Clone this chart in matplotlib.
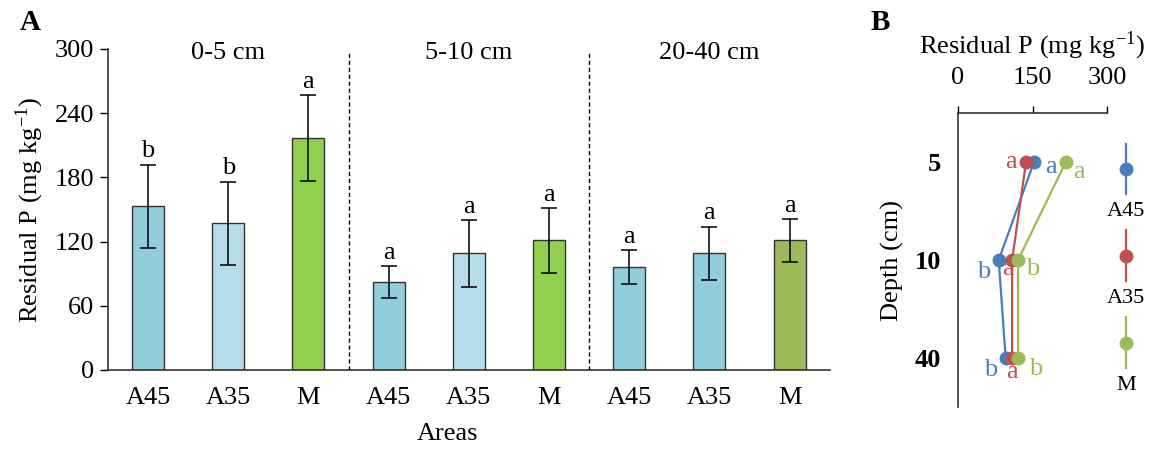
import numpy as np
import matplotlib
matplotlib.use("Agg")
import matplotlib.pyplot as plt

plt.rcParams['font.family'] = ['Liberation Serif', 'DejaVu Serif']
plt.rcParams['mathtext.fontset'] = 'stix'

# panel A data
depths = ['0-5 cm', '5-10 cm', '20-40 cm']
areas = ['A45', 'A35', 'M']
means = [153, 137, 217,  82, 109, 121,  96, 109, 121]
errs = [39, 39, 40,  15, 31, 30,  16, 25, 20]
letters_a = ['b', 'b', 'a',  'a', 'a', 'a',  'a', 'a', 'a']
bar_colors = ['#92CDDC', '#B7DEE8', '#92D050',
              '#92CDDC', '#B7DEE8', '#92D050',
              '#92CDDC', '#92CDDC', '#9BBB59']

# panel B data (same means, by area across depth)
depth_ticks = ['5', '10', '40']
prof = {'A45': [153, 82, 96], 'A35': [137, 109, 109], 'M': [217, 121, 121]}
prof_colors = {'A45': '#4A7EBB', 'A35': '#C0504D', 'M': '#9BBB59'}
prof_letters = {'A45': ['a', 'b', 'b'], 'A35': ['a', 'a', 'a'], 'M': ['a', 'b', 'b']}
# label offsets in pixels (dx, dy) relative to each point
prof_offsets = {'A45': [(17, -5), (-15, -12), (-15, -12)],
                'A35': [(-15, 0), (-4, -9), (0, -14)],
                'M': [(13, -10), (15, -9), (18, -11)]}

FS = 19

fig = plt.figure(figsize=(11.51, 4.49), dpi=100)

# ---- panel A
ax = fig.add_axes([0.0938, 0.176, 0.627, 0.715])
x = np.arange(len(means))
ax.bar(x, means, width=0.4, color=bar_colors, edgecolor='#333333', linewidth=1, zorder=2)
ax.errorbar(x, means, yerr=errs, fmt='none', ecolor='black', elinewidth=1.1,
            capsize=6, capthick=1.1, zorder=3)
for xi, m, e, l in zip(x, means, errs, letters_a):
    ax.text(xi, m + e + 2, l, ha='center', va='bottom', fontsize=FS)
for k, d in enumerate(depths):
    ax.text(3 * k + 1, 296, d, ha='center', va='center', fontsize=FS)
ax.vlines([2.5, 5.5], 0, 297, colors='black', linestyles=(0, (3, 2)), linewidth=1)

ax.set_xlim(-0.5, 8.5)
ax.set_ylim(0, 300)
ax.set_yticks(np.arange(0, 301, 60))
ax.set_xticks(x)
ax.set_xticklabels(areas * 3)
ax.tick_params(axis='x', length=0, pad=12, labelsize=FS)
ax.tick_params(axis='y', length=6, width=1, direction='out', pad=4, labelsize=FS)
for s in ['top', 'right']:
    ax.spines[s].set_visible(False)
for s in ['left', 'bottom']:
    ax.spines[s].set_color('#333333')
    ax.spines[s].set_linewidth(1.2)
ax.set_ylabel('Residual P (mg kg$^{\\mathregular{-1}}$)', fontsize=FS, labelpad=6)
ax.set_xlabel('Areas', fontsize=FS)
ax.xaxis.set_label_coords(0.47, -0.165)

fig.text(0.026, 0.95, 'A', fontsize=21, fontweight='bold', va='center', ha='center')
fig.text(0.765, 0.95, 'B', fontsize=21, fontweight='bold', va='center', ha='center')

# ---- panel B
bx = fig.add_axes([0.8323, 0.0935, 0.1295, 0.6548])
ypos = np.arange(len(depth_ticks))
for name in areas:
    bx.plot(prof[name], ypos, color=prof_colors[name], lw=1.6, marker='o',
            markersize=9, zorder=3)
    for xv, yv, l, (dx, dy) in zip(prof[name], ypos, prof_letters[name], prof_offsets[name]):
        bx.annotate(l, (xv, yv), xytext=(dx, dy), textcoords='offset pixels',
                    ha='center', va='center', fontsize=FS, color=prof_colors[name])
bx.set_xlim(0, 300)
bx.set_ylim(2.5, -0.5)
bx.set_xticks([0, 150, 300])
bx.set_yticks(ypos)
bx.set_yticklabels(depth_ticks, fontweight='bold')
bx.xaxis.tick_top()
bx.xaxis.set_label_position('top')
bx.tick_params(axis='x', length=5, width=1, direction='out', pad=12, labelsize=FS)
bx.tick_params(axis='y', length=0, pad=12, labelsize=FS)
for s in ['bottom', 'right']:
    bx.spines[s].set_visible(False)
for s in ['top', 'left']:
    bx.spines[s].set_color('#333333')
    bx.spines[s].set_linewidth(1.2)
bx.set_xlabel('Residual P (mg kg$^{\\mathregular{-1}}$)', fontsize=FS, labelpad=10)
bx.set_ylabel('Depth (cm)', fontsize=FS, labelpad=8)

# ---- legend for panel B (vertical marker symbols)
lx = fig.add_axes([0.965, 0.053, 0.027, 0.668])
for i, name in enumerate(areas):
    lx.plot([0, 0], [i - 0.29, i + 0.29], color=prof_colors[name], lw=1.6)
    lx.plot([0], [i], marker='o', markersize=9, color=prof_colors[name])
    lx.text(0, i + 0.49, name, ha='center', va='center', fontsize=16)
lx.set_xlim(-1, 1)
lx.set_ylim(2.95, -0.5)
lx.axis('off')

fig.savefig('out.png', dpi=100)
